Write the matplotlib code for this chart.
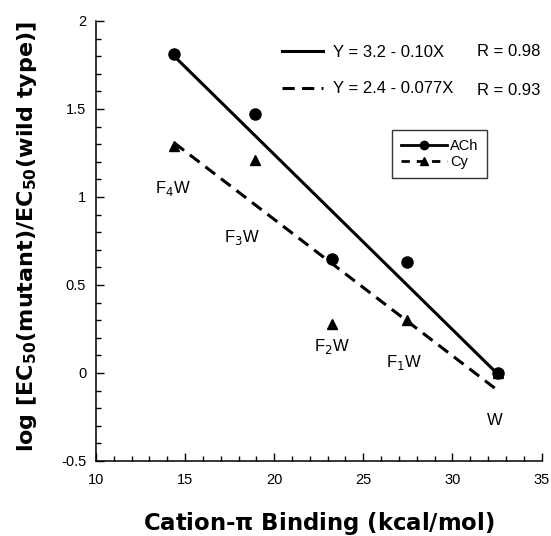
import matplotlib
matplotlib.use("Agg")
import matplotlib.pyplot as plt
import numpy as np
from matplotlib.ticker import MultipleLocator

# cation-pi binding energies (kcal/mol) for F4W, F3W, F2W, F1W, W
binding = [14.4, 18.9, 23.25, 27.45, 32.55]
ach = [1.81, 1.47, 0.65, 0.63, 0.0]
cy = [1.29, 1.21, 0.28, 0.30, 0.0]
names = [r'F$_4$W', r'F$_3$W', r'F$_2$W', r'F$_1$W', 'W']
name_x = [14.3, 18.2, 23.25, 27.25, 32.35]
name_y = [1.05, 0.77, 0.15, 0.06, -0.27]
fit_eqs = ['Y = 3.2 - 0.10X', 'Y = 2.4 - 0.077X']
fit_r = ['R = 0.98', 'R = 0.93']

plt.rcParams['font.family'] = ['Liberation Sans', 'DejaVu Sans']

fig = plt.figure(figsize=(5.51, 5.36), dpi=100)
ax = fig.add_axes([0.174, 0.140, 0.809, 0.821])

x = np.array(binding)
xs = np.array([min(binding), max(binding)])
p1 = np.polyfit(x, ach, 1)
p2 = np.polyfit(x, cy, 1)
l1, = ax.plot(xs, np.polyval(p1, xs), color='black', lw=2.2)
l2, = ax.plot(xs, np.polyval(p2, xs), color='black', lw=2.2, ls=(0, (4, 2.4)))

ax.plot(x, cy, ls='none', marker='^', ms=7.5, color='black')
ax.plot(x, ach, ls='none', marker='o', ms=8, color='black')

for n, tx, ty in zip(names, name_x, name_y):
    ax.text(tx, ty, n, fontsize=12, ha='center', va='center')

# fit equations legend
leg1 = ax.legend([l1, l2], fit_eqs, loc='upper left', frameon=False,
                 fontsize=12, handlelength=2.45, handletextpad=0.65,
                 labelspacing=1.3, borderpad=0, borderaxespad=0,
                 bbox_to_anchor=(0.417, 0.946))
ax.add_artist(leg1)
for r, yy in zip(fit_r, [0.930, 0.842]):
    ax.text(0.854, yy, r, transform=ax.transAxes, fontsize=12, va='center')

h1, = ax.plot([], [], color='black', lw=2, marker='o', ms=6)
h2, = ax.plot([], [], color='black', lw=2, ls=(0, (3, 2.5)), marker='^', ms=6)
leg2 = ax.legend([h1, h2], ['ACh', 'Cy'], loc='upper left',
                 bbox_to_anchor=(0.664, 0.752), borderaxespad=0, fontsize=10.5,
                 frameon=True, fancybox=False, edgecolor='black',
                 handlelength=3.2, handletextpad=0.2, borderpad=0.6,
                 labelspacing=0.15, numpoints=1)
leg2.get_frame().set_linewidth(1.0)

ax.set_xlim(10, 35)
ax.set_ylim(-0.5, 2)
ax.xaxis.set_minor_locator(MultipleLocator(1))
ax.yaxis.set_minor_locator(MultipleLocator(0.1))
ax.set_xticks([10, 15, 20, 25, 30, 35])
ax.set_xticklabels(['10', '15', '20', '25', '30', '35'])
ax.set_yticks([-0.5, 0, 0.5, 1, 1.5, 2])
ax.set_yticklabels(['-0.5', '0', '0.5', '1', '1.5', '2'])
ax.tick_params(which='major', direction='in', length=5.8, width=1, labelsize=10.5)
ax.tick_params(which='minor', direction='in', length=3.6, width=1)
ax.tick_params(axis='x', pad=9)
ax.tick_params(axis='y', pad=7)
ax.spines['top'].set_visible(False)
ax.spines['right'].set_visible(False)
ax.spines['left'].set_linewidth(1.1)
ax.spines['bottom'].set_linewidth(1.1)

ax.set_xlabel(r'Cation-$\mathregular{\pi}$ Binding (kcal/mol)', family='DejaVu Sans',
              fontsize=16.4, fontweight='bold')
ax.xaxis.label.set_va('center')
ax.xaxis.set_label_coords(0.5, -0.142)
ax.set_ylabel(r'log [EC$_\mathbf{50}$(mutant)/EC$_\mathbf{50}$(wild type)]',
              family='DejaVu Sans', fontsize=16, fontweight='bold')
ax.yaxis.label.set_va('center')
ax.yaxis.set_label_coords(-0.155, 0.51)

fig.savefig('out.png', dpi=100)
